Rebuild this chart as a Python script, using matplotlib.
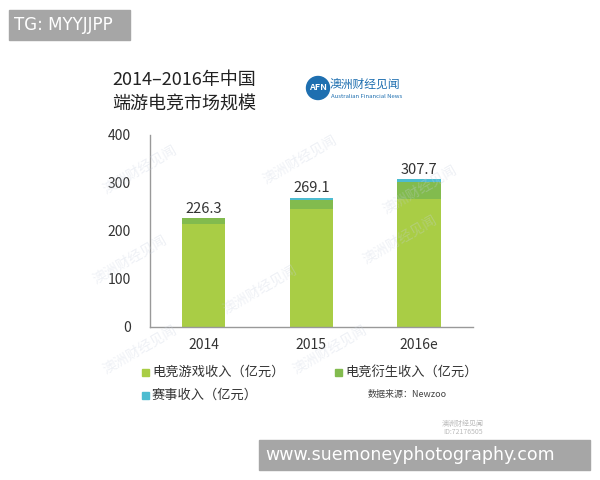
import matplotlib.pyplot as plt
from matplotlib.patches import Rectangle, Circle

plt.rcParams['font.family'] = ['Noto Sans CJK SC', 'DejaVu Sans']

years = ['2014', '2015', '2016e']
game_income = [215.0, 245.0, 266.0]
derived_income = [11.0, 19.0, 35.0]
event_income = [0.3, 5.1, 6.7]
totals = [226.3, 269.1, 307.7]
legend_labels = ['电竞游戏收入（亿元）', '电竞衍生收入（亿元）', '赛事收入（亿元）']
colors = ['#a9cd45', '#82bb4e', '#4dbcd0']

fig = plt.figure(figsize=(6, 4.8), dpi=100)
ax = fig.add_axes([0.25, 0.319, 0.538, 0.4])

x = range(len(years))
bottom2 = game_income
bottom3 = [a + b for a, b in zip(game_income, derived_income)]
ax.bar(x, game_income, width=0.4, color=colors[0])
ax.bar(x, derived_income, width=0.4, bottom=bottom2, color=colors[1])
ax.bar(x, event_income, width=0.4, bottom=bottom3, color=colors[2])
for i, t in enumerate(totals):
    ax.text(i, t + 5, f'{t:.1f}', ha='center', va='bottom', fontsize=10.5, color='#333333')

ax.set_xlim(-0.5, 2.5)
ax.set_ylim(0, 400)
ax.set_yticks([0, 100, 200, 300, 400])
ax.set_xticks(list(x))
ax.set_xticklabels(years)
ax.tick_params(length=0, labelsize=10, colors='#333333', pad=8)
ax.tick_params(axis='y', pad=14)
for s in ['top', 'right']:
    ax.spines[s].set_visible(False)
for s in ['left', 'bottom']:
    ax.spines[s].set_color('#999999')
    ax.spines[s].set_linewidth(1)

# faint watermarks
for wx, wy in [(140, 170), (300, 160), (420, 190), (130, 260), (260, 290), (400, 240), (140, 350), (330, 350)]:
    fig.text(wx / 600, 1 - wy / 480, '澳洲财经见闻', fontsize=10, color='#c8d0e0', alpha=0.3, rotation=30,
             ha='center', va='center')
fig.text(463 / 600, 1 - 428 / 480, '澳洲财经见闻\nID:72176505', fontsize=5, color='#bbbbbb',
         ha='center', va='center', linespacing=1.0)

# title and logo
fig.text(112 / 600, 1 - 80 / 480, '2014–2016年中国', fontsize=13, va='center', color='#222222')
fig.text(112 / 600, 1 - 104 / 480, '端游电竞市场规模', fontsize=13, va='center', color='#222222')
fig.patches.append(Circle((318, 480 - 88), 11.5, transform=None, color='#1e6fb0'))
fig.text(318 / 600, 1 - 88 / 480, 'AFN', fontsize=6.5, color='white', ha='center', va='center', weight='bold')
fig.text(330 / 600, 1 - 84 / 480, '澳洲财经见闻', fontsize=8.5, color='#1e6fb0', va='center')
fig.text(331 / 600, 1 - 96 / 480, 'Australian Financial News', fontsize=4.3, color='#1e6fb0', va='center')

# legend
leg_pos = [(145, 372), (338, 372), (145, 395)]
for (px, py), lab, c in zip(leg_pos, legend_labels, colors):
    fig.patches.append(Rectangle((px - 3.5, 480 - py - 3.5), 7, 7, transform=None, color=c))
    fig.text((px + 7) / 600, 1 - py / 480, lab, fontsize=9.5, va='center', color='#333333')
fig.text(368 / 600, 1 - 395 / 480, '数据来源：Newzoo', fontsize=6.5, va='center', color='#444444')

# gray banners
fig.patches.append(Rectangle((9, 480 - 40), 121, 30, transform=None, color='#a6a6a6'))
fig.text(14 / 600, 1 - 25 / 480, 'TG: MYYJJPP', fontsize=12, color='white', va='center', family='DejaVu Sans')
fig.patches.append(Rectangle((259, 480 - 470), 331, 30, transform=None, color='#a6a6a6'))
fig.text(265 / 600, 1 - 455 / 480, 'www.suemoneyphotography.com', fontsize=12.5, color='white',
         va='center', family='DejaVu Sans')

fig.savefig('out.png', dpi=100)
